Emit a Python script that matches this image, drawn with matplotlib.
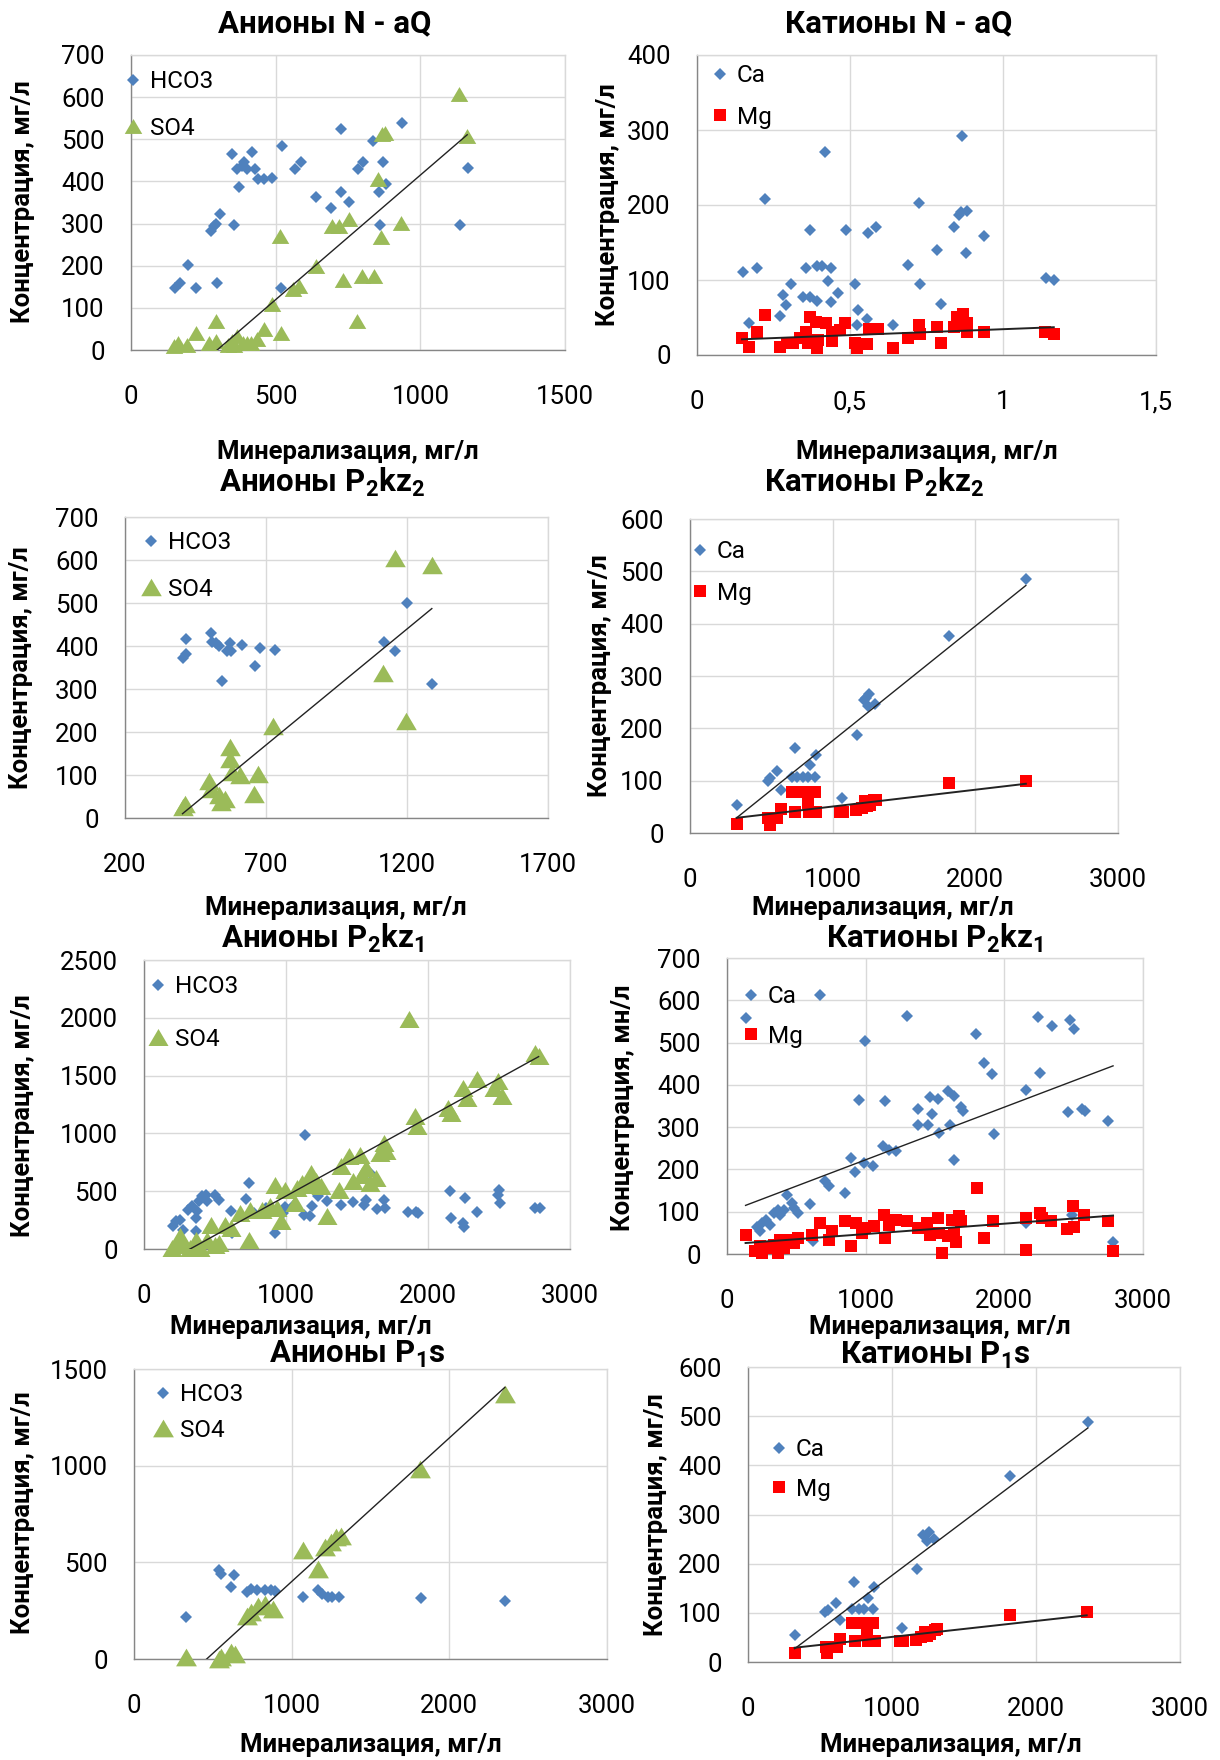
import numpy as np
import matplotlib
matplotlib.use('Agg')
import matplotlib.pyplot as plt

plt.rcParams['font.family'] = ['Roboto', 'DejaVu Sans']
plt.rcParams['mathtext.fontset'] = 'custom'
plt.rcParams['mathtext.rm'] = 'Roboto'
plt.rcParams['mathtext.bf'] = 'Roboto:bold'
plt.rcParams['mathtext.it'] = 'Roboto:italic'

# ---------------- DATA ----------------
# Panel 1: Анионы N - aQ
p1_hco3_x = [152,169,198,226,275,286,295,298,309,348,356,372,368,382,391,402,418,428,439,461,
             488,521,519,568,588,641,690,727,727,755,785,801,838,856,860,871,880,936,1136,1164]
p1_hco3_y = [148,160,201,148,283,295,299,160,322,465,296,386,429,437,445,429,470,429,405,405,
             409,485,148,429,445,362,336,524,376,350,429,445,497,375,296,445,394,538,296,431]
p1_so4_x = [149,162,195,225,269,293,295,335,348,355,368,388,402,415,435,461,488,519,515,561,
            581,638,694,720,731,755,781,797,840,854,864,867,878,934,1133,1162]
p1_so4_y = [10,17,13,41,17,69,21,13,21,13,33,17,17,17,25,49,108,41,271,144,
            152,200,295,295,166,310,69,176,176,405,269,512,516,301,607,508]
p1_so4_trend = (0.591, -176.0)

# Panel 2: Катионы N - aQ
p2_ca_x = [0.149,0.171,0.195,0.223,0.272,0.281,0.291,0.306,0.345,0.356,0.369,0.369,0.392,0.392,
           0.407,0.417,0.428,0.439,0.438,0.461,0.486,0.516,0.526,0.523,0.555,0.560,0.586,0.640,
           0.689,0.726,0.728,0.783,0.797,0.841,0.855,0.864,0.867,0.883,0.880,0.937,1.139,1.166]
p2_ca_y = [111,43,116,208,52,80,67,95,77,116,167,77,72,119,
           119,271,99,116,71,83,167,95,60,40,48,163,171,40,
           120,203,95,140,68,171,186,190,292,192,136,159,103,100]
p2_mg_x = [0.147,0.170,0.197,0.222,0.272,0.293,0.313,0.338,0.356,0.362,0.369,0.389,0.392,0.396,
           0.421,0.440,0.440,0.466,0.484,0.515,0.523,0.554,0.562,0.590,0.640,0.689,0.726,0.730,
           0.783,0.797,0.841,0.851,0.869,0.858,0.883,0.883,0.937,1.136,1.166]
p2_mg_y = [23,11,30,53,10,16,16,22,30,16,50,44,9,20,
           42,31,18,33,42,16,9,14,35,35,9,23,40,28,
           37,16,37,51,55,40,42,31,30,31,28]
p2_mg_trend = (15.8, 18.6)

# Panel 3: Анионы P2kz2
p3_hco3_x = [404,415,416,505,509,523,535,543,562,573,576,614,662,680,731,1118,1159,1200,1288]
p3_hco3_y = [371,381,416,431,409,408,400,319,389,406,389,403,354,396,391,409,389,499,311]
p3_so4_x = [404,413,498,505,532,542,553,571,573,580,607,658,673,724,1115,1157,1198,1288]
p3_so4_y = [25,33,87,68,53,37,45,165,138,107,99,56,103,215,338,605,226,589]
p3_so4_trend = (0.5396, -208.0)

# Panel 4: Катионы P2kz2
p4_ca_x = [327,547,558,613,635,715,737,751,792,828,839,874,880,1064,1171,1218,1232,1246,1254,1295,1818,2354]
p4_ca_y = [53,99,105,119,83,107,162,107,107,107,130,107,149,67,187,254,258,243,265,247,376,485]
p4_mg_x = [327,547,558,613,641,715,737,756,792,825,833,874,880,1053,1075,1163,1204,1224,1240,1262,1287,1301,1818,2354]
p4_mg_y = [18,29,16,29,45,79,40,79,79,58,40,79,40,40,40,43,47,61,51,54,64,64,96,100]
p4_ca_trend = (0.219, -42.6)
p4_mg_trend = (0.0321, 18.5)

# Panel 5: Анионы P2kz1
p5_hco3_x = [202,224,256,278,311,338,365,371,387,406,434,447,502,529,365,611,622,720,742,775,
             856,925,980,993,1047,1124,1137,1170,1184,1224,1292,1388,1470,1552,1560,1593,1642,1688,1696,1860,
             1915,1928,2152,2160,2247,2252,2261,2343,2493,2501,2506,2757,2792]
p5_hco3_y = [202,240,254,167,341,370,268,326,413,456,471,413,471,427,153,326,139,433,572,312,
             355,139,312,364,370,297,990,289,370,456,419,384,404,384,427,658,346,427,355,318,
             318,312,500,268,225,191,442,318,471,508,398,355,355]
p5_so4_x = [194,229,256,284,325,365,393,447,475,502,529,570,611,679,742,747,829,884,925,938,
            966,993,1061,1074,1115,1156,1178,1211,1244,1292,1374,1388,1443,1470,1524,1538,1565,1593,1633,1661,
            1688,1702,1865,1906,1925,2138,2165,2247,2274,2348,2465,2493,2520,2752,2779]
p5_so4_y = [9,52,110,38,9,81,9,81,211,38,52,211,182,312,81,341,341,370,557,355,
            240,514,398,528,572,557,658,586,543,283,514,716,803,586,817,644,702,572,615,832,
            918,846,1986,1149,1062,1221,1178,1394,1308,1467,1394,1452,1322,1698,1669]
p5_so4_trend = (0.678, -220.0)

# Panel 6: Катионы P2kz1
p6_ca_x = [134,670,1295,994,216,241,256,284,313,341,369,384,412,432,469,483,511,597,617,710,
           739,852,895,923,952,986,1051,1122,1136,1165,1222,1378,1378,1449,1463,1477,1520,1528,1591,1605,
           1634,1639,1685,1699,1795,1855,1909,1926,2153,2159,2244,2258,2344,2457,2472,2500,2486,2557,2585,2750,2784]
p6_ca_y = [558,613,564,503,65,54,73,81,69,97,105,93,105,140,121,109,97,119,30,172,
           160,144,227,195,365,215,207,255,363,247,243,344,304,304,371,330,367,286,385,304,
           373,223,348,337,520,452,426,284,387,73,560,428,540,335,554,532,93,344,339,315,28]
p6_mg_x = [134,205,236,256,284,341,369,384,412,454,483,511,611,668,739,759,852,895,929,972,
           994,1060,1131,1136,1165,1222,1295,1378,1443,1463,1520,1528,1554,1591,1619,1639,1648,1676,1690,1804,
           1855,1918,2159,2159,2258,2273,2338,2449,2492,2500,2571,2750,2784]
p6_mg_y = [46,6,18,2,14,22,2,34,14,34,26,38,46,73,34,54,77,18,73,50,
           61,67,93,38,69,81,79,61,73,46,85,50,2,42,81,50,28,91,77,156,
           38,77,10,85,97,85,77,58,113,65,93,77,6]
p6_ca_trend = (0.1245, 98.3)
p6_mg_trend = (0.0245, 22.7)

# Panel 7: Анионы P1s
p7_hco3_x = [330,539,552,613,633,719,744,781,830,867,892,1069,1167,1195,1231,1256,1298,1818,2350]
p7_hco3_y = [216,460,440,371,436,345,362,357,357,357,350,322,357,336,322,319,322,316,298]
p7_so4_x = [330,542,554,616,640,719,744,788,830,879,1069,1167,1212,1249,1281,1310,1815,2352]
p7_so4_y = [9,0,9,34,26,224,241,276,284,259,564,465,578,603,629,638,983,1371]
p7_so4_trend = (0.743, -342.5)

# Panel 8: Катионы P1s
p8_ca_x = [324,536,555,610,637,719,738,768,808,833,868,876,1067,1173,1214,1241,1258,1290,1821,2360]
p8_ca_y = [54,101,106,119,86,107,163,107,107,131,107,152,69,189,258,247,265,250,378,488]
p8_mg_x = [324,542,550,618,637,719,746,754,800,827,836,868,882,1059,1078,1168,1203,1230,1241,1263,1296,1312,1816,2352]
p8_mg_y = [19,31,19,31,46,80,43,80,80,56,43,80,43,43,43,45,50,61,53,56,65,67,95,102]
p8_ca_trend = (0.2205, -44.4)
p8_mg_trend = (0.0325, 18.5)

titles = ['Анионы N - aQ', 'Катионы N - aQ',
          r'Анионы P$_\mathbf{2}$kz$_\mathbf{2}$', r'Катионы P$_\mathbf{2}$kz$_\mathbf{2}$',
          r'Анионы P$_\mathbf{2}$kz$_\mathbf{1}$', r'Катионы P$_\mathbf{2}$kz$_\mathbf{1}$',
          r'Анионы P$_\mathbf{1}$s', r'Катионы P$_\mathbf{1}$s']
xlabel_text = 'Минерализация, мг/л'
ylabel_texts = ['Концентрация, мг/л'] * 5 + ['Концентрация, мн/л'] + ['Концентрация, мг/л'] * 2

xticks_list = [[0, 500, 1000, 1500], [0, 0.5, 1, 1.5], [200, 700, 1200, 1700], [0, 1000, 2000, 3000],
               [0, 1000, 2000, 3000], [0, 1000, 2000, 3000], [0, 1000, 2000, 3000], [0, 1000, 2000, 3000]]
xticklabels_list = [['0', '500', '1000', '1500'], ['0', '0,5', '1', '1,5'], ['200', '700', '1200', '1700'],
                    ['0', '1000', '2000', '3000'], ['0', '1000', '2000', '3000'], ['0', '1000', '2000', '3000'],
                    ['0', '1000', '2000', '3000'], ['0', '1000', '2000', '3000']]
yticks_list = [list(range(0, 701, 100)), list(range(0, 401, 100)), list(range(0, 701, 100)),
               list(range(0, 601, 100)), list(range(0, 2501, 500)), list(range(0, 701, 100)),
               list(range(0, 1501, 500)), list(range(0, 601, 100))]

# ---------------- LAYOUT ----------------
W, H = 1220, 1760
fig = plt.figure(figsize=(W / 100, H / 100), dpi=100)
fig.patch.set_facecolor('white')

BLUE = '#4F81BD'
GREEN = '#9BBB59'
RED = '#FF0000'
GRID = '#D9D9D9'
AXIS = '#868686'
TRI = [(0, 0.85), (-1, -0.85), (1, -0.85), (0, 0.85)]

# box: left, top, right, bottom (pixels)
layout = [
    dict(box=(131, 55, 565, 350), title=(325, 23), xl=(348, 452), yl=(23, 202), leg=(132.6, 80, 48), ms=(6.4, 12.6)),
    dict(box=(697, 55, 1156, 355), title=(899, 23), xl=(927, 452), yl=(608, 205), leg=(720, 74, 43), ms=(6.2, 8.5)),
    dict(box=(125, 517, 548, 818), title=(322, 482), xl=(336, 908), yl=(21, 668), leg=(151, 541, 48), ms=(6.0, 14.8)),
    dict(box=(690, 519, 1118, 833), title=(874, 482), xl=(883, 908), yl=(600, 676), leg=(700, 550, 43), ms=(6.5, 9.3)),
    dict(box=(144, 960, 570, 1249), title=(322, 938), xl=(301, 1327), yl=(23, 1116), leg=(158, 985, 54), ms=(5.7, 14.4)),
    dict(box=(727, 958, 1143, 1254), title=(935, 938), xl=(940, 1327), yl=(623, 1108), leg=(751, 995, 41), ms=(6.2, 8.5)),
    dict(box=(134, 1369, 607, 1659), title=(357, 1354), xl=(371, 1745), yl=(23, 1513), leg=(163, 1393, 37), ms=(6.0, 15.0)),
    dict(box=(748, 1367, 1180, 1662), title=(935, 1355), xl=(951, 1745), yl=(656, 1515), leg=(779, 1448, 41), ms=(6.2, 9.3)),
]

series = [
    ('HCO3', p1_hco3_x, p1_hco3_y, None, 'SO4', p1_so4_x, p1_so4_y, p1_so4_trend),
    ('Ca', p2_ca_x, p2_ca_y, None, 'Mg', p2_mg_x, p2_mg_y, p2_mg_trend),
    ('HCO3', p3_hco3_x, p3_hco3_y, None, 'SO4', p3_so4_x, p3_so4_y, p3_so4_trend),
    ('Ca', p4_ca_x, p4_ca_y, p4_ca_trend, 'Mg', p4_mg_x, p4_mg_y, p4_mg_trend),
    ('HCO3', p5_hco3_x, p5_hco3_y, None, 'SO4', p5_so4_x, p5_so4_y, p5_so4_trend),
    ('Ca', p6_ca_x, p6_ca_y, p6_ca_trend, 'Mg', p6_mg_x, p6_mg_y, p6_mg_trend),
    ('HCO3', p7_hco3_x, p7_hco3_y, None, 'SO4', p7_so4_x, p7_so4_y, p7_so4_trend),
    ('Ca', p8_ca_x, p8_ca_y, p8_ca_trend, 'Mg', p8_mg_x, p8_mg_y, p8_mg_trend),
]

TICK_FS = 18.5
LAB_FS = 18.5
TITLE_FS = 22.5
LEG_FS = 17.5


def to_axes(box, px, py):
    l, t, r, b = box
    return (px - l) / (r - l), (b - py) / (b - t)


for i, (cfg, ser) in enumerate(zip(layout, series)):
    l, t, r, b = cfg['box']
    ax = fig.add_axes([l / W, 1 - b / H, (r - l) / W, (b - t) / H])
    xt, yt = xticks_list[i], yticks_list[i]
    ax.set_xlim(xt[0], xt[-1])
    ax.set_ylim(yt[0], yt[-1])
    ax.set_xticks(xt)
    ax.set_xticklabels(xticklabels_list[i])
    ax.set_yticks(yt)
    ax.set_yticklabels([str(v) for v in yt])
    ax.tick_params(axis='both', length=0, labelsize=TICK_FS, colors='black')
    ax.tick_params(axis='x', pad=25.5)
    ax.tick_params(axis='y', pad=19)
    ax.set_axisbelow(True)
    ax.grid(True, color=GRID, lw=1.0)
    for s in ('top', 'right'):
        ax.spines[s].set_color(GRID)
        ax.spines[s].set_linewidth(1.0)
    for s in ('left', 'bottom'):
        ax.spines[s].set_color(AXIS)
        ax.spines[s].set_linewidth(1.0)

    n1, x1, y1, tr1, n2, x2, y2, tr2 = ser
    ms1, ms2 = cfg['ms']
    h1, = ax.plot(x1, y1, ls='none', marker='D', ms=ms1, color=BLUE, mew=0, clip_on=False, zorder=3, label=n1)
    if n2 == 'SO4':
        h2, = ax.plot(x2, y2, ls='none', marker=TRI, ms=ms2, color=GREEN, mew=0, clip_on=False, zorder=4, label=n2)
    else:
        h2, = ax.plot(x2, y2, ls='none', marker='s', ms=ms2, color=RED, mew=0, clip_on=False, zorder=4, label=n2)

    for xs, tr, lw in ((x1, tr1, 1.0), (x2, tr2, 1.4 if n2 == 'Mg' else 1.0)):
        if tr is None:
            continue
        xx = np.array([min(xs), max(xs)], dtype=float)
        ax.plot(xx, tr[0] * xx + tr[1], color='#222222', lw=lw, zorder=5, clip_on=True)

    # legend
    mx, my, gap = cfg['leg']
    fs_px = LEG_FS * 100 / 72
    hl = 0.8
    bx = mx - hl * fs_px / 2
    by = my - 0.41 * fs_px
    ax_x, ax_y = to_axes(cfg['box'], bx, by)
    ax.legend([h1, h2], [n1, n2], loc='upper left', bbox_to_anchor=(ax_x, ax_y), frameon=False,
              borderpad=0, borderaxespad=0, handlelength=hl, handletextpad=0.3,
              labelspacing=gap / fs_px - 1.0, fontsize=LEG_FS, numpoints=1)

    # title
    tx, ty = to_axes(cfg['box'], *cfg['title'])
    tt = ax.set_title(titles[i], fontsize=TITLE_FS, fontweight='bold', y=ty, pad=0, va='center')
    tt.set_x(tx)

    ax.set_xlabel(xlabel_text, fontsize=LAB_FS, fontweight='bold')
    ax.xaxis.set_label_coords(*to_axes(cfg['box'], *cfg['xl']))
    ax.xaxis.label.set_va('center')
    ax.set_ylabel(ylabel_texts[i], fontsize=LAB_FS, fontweight='bold')
    ax.yaxis.set_label_coords(*to_axes(cfg['box'], *cfg['yl']))
    ax.yaxis.label.set_va('center')

fig.savefig('out.png', dpi=100, facecolor='white')
